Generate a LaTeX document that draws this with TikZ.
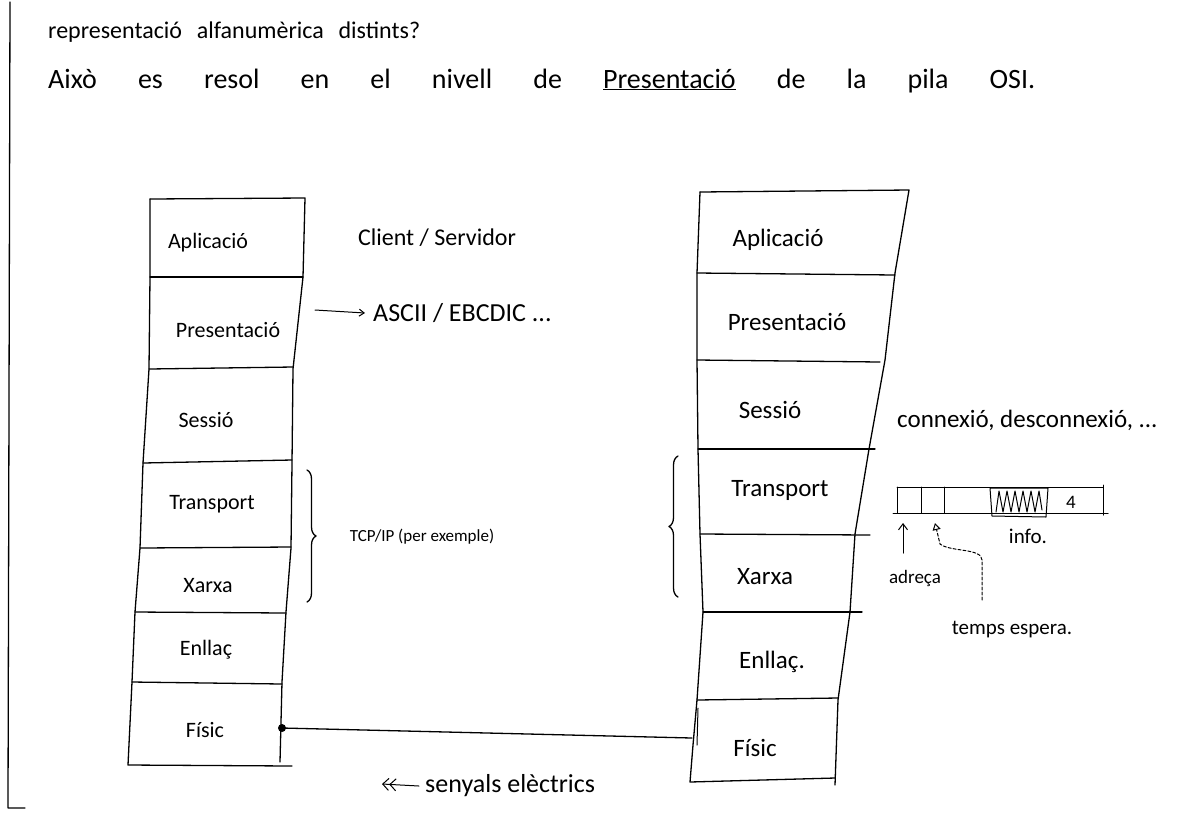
\documentclass[tikz,border=0pt]{standalone}
\usepackage{fontspec}
\setmainfont{Carlito}
\usetikzlibrary{arrows.meta,decorations.pathreplacing}
\begin{document}
\begin{tikzpicture}[x=1pt,y=-1pt,
  ln/.style={line width=1.3pt, line join=round, line cap=round},
  thin/.style={line width=1pt, line join=round, line cap=round},
  lbl/.style={font=\fontsize{22}{26}\selectfont, inner sep=0pt},
  rlbl/.style={font=\fontsize{25}{30}\selectfont, inner sep=0pt},
  note/.style={font=\fontsize{24}{28}\selectfont, inner sep=0pt},
  small/.style={font=\fontsize{19}{22}\selectfont, inner sep=0pt},
  head/.style={font=\fontsize{28}{32}\selectfont, inner sep=0pt, anchor=base west},
  brc/.style={ln, decorate, decoration={brace, amplitude=9pt}}]
\useasboundingbox (0,0) rectangle (1182,812);
% page margin line
\draw[ln] (10,2) -- (8,808) -- (25,808);
% heading
\node[head, font=\fontsize{24}{28}\selectfont] (h1) at (48,38) {\makebox[372pt][s]{representació alfanumèrica distints?}};
\node[head] (h2) at (48,88) {\makebox[987pt][s]{Això es resol en el nivell de \underline{Presentació} de la pila OSI.}};
% left stack
\draw[ln] (150,199) -- (305,198) -- (303,277) -- (293,369) -- (292,463) -- (291,548) -- (286,612) -- (282,682) -- (280,762);
\draw[ln] (150,199) -- (150,277) -- (149,369) -- (143,463) -- (140,548) -- (135,612) -- (132,682) -- (128,765) -- (292,766);
\draw[ln] (150,277) -- (303,277);
\draw[ln] (149,369) -- (293,367);
\draw[ln] (143,463) -- (292,460);
\draw[ln] (140,548) -- (291,547);
\draw[ln] (135,612) -- (286,613);
\draw[ln] (132,682) -- (282,684);
\node[lbl] (la) at (208,243) {Aplicació};
\node[lbl] (lp) at (228,330) {Presentació};
\node[lbl] (ls) at (206,420) {Sessió};
\node[lbl] (lt) at (212,504) {Transport};
\node[lbl] (lx) at (208,586) {Xarxa};
\node[lbl] (le) at (206,650) {Enllaç};
\node[lbl] (lf) at (205,730) {Físic};
% right stack
\draw[ln] (700,192) -- (909,190) -- (895,273) -- (885,360) -- (869,449) -- (855,534) -- (850,612) -- (838,700) -- (835,785);
\draw[ln] (700,192) -- (697,273) -- (697,360) -- (698,449) -- (700,534) -- (703,612) -- (697,700) -- (693,745) -- (690,782) -- (835,778);
\draw[ln] (697,273) -- (895,275);
\draw[ln] (697,360) -- (880,362);
\draw[ln] (698,449) -- (875,449);
\draw[ln] (700,534) -- (870,535);
\draw[ln] (703,612) -- (862,612);
\draw[ln] (697,700) -- (838,698);
\draw[thin] (698,708) -- (697,745);
\node[rlbl] (ra) at (778,240) {Aplicació};
\node[rlbl] (rp) at (787,322) {Presentació};
\node[rlbl] (rs) at (770,410) {Sessió};
\node[rlbl] (rt) at (780,490) {Transport};
\node[rlbl] (rx) at (765,577) {Xarxa};
\node[rlbl] (re) at (772,662) {Enllaç.};
\node[rlbl] (rf) at (755,748) {Físic};
% physical link
\coordinate (pl) at (282,728);
\coordinate (pr) at (692,738);
\fill (pl) circle (4);
\draw[ln] (pl) -- (pr);
% middle notes
\node[note] (cs) at (437,238) {Client / Servidor};
\node[note, anchor=west, font=\fontsize{26}{30}\selectfont] (asc) at (373,313) {ASCII / EBCDIC ...};
\coordinate (ascs) at (315,310);
\draw[thin, -{Straight Barb[length=5pt,width=7pt]}] (ascs) -- ([xshift=-8pt]asc.west);
\draw[brc] (307,470) -- (307,602);
\node[note, font=\fontsize{17}{20}\selectfont] (tcp) at (422,537) {TCP/IP (per exemple)};
\draw[brc] (678,597) -- (678,456);
\node[note, anchor=west, font=\fontsize{25}{30}\selectfont] (con) at (897,420) {connexió, desconnexió, ...};
% packet
\draw[thin] (893,513) -- (1108,513);
\draw[thin] (897,487) -- (1103,487);
\draw[thin] (897,487) -- (897,513);
\draw[thin] (921,487) -- (921,513);
\draw[thin] (944,487) -- (944,513);
\draw[thin] (1103,485) -- (1103,515);
\draw[thin] (990,488) -- (1048,488) -- (1046,517) -- (992,516) -- cycle;
\draw[thin] (996,512) -- (999,491) -- (1003,512) -- (1007,491) -- (1011,512) -- (1015,491) -- (1019,512) -- (1023,491) -- (1027,512) -- (1031,491) -- (1035,512) -- (1039,491) -- (1042,510);
\node[small] (four) at (1071,502) {4};
\node[small, font=\fontsize{21}{24}\selectfont] (info) at (1028,536) {info.};
\node[small] (adr) at (915,578) {adreça};
\coordinate (adrs) at (903,553);
\coordinate (adre) at (903,523);
\draw[thin, -{Straight Barb[length=6pt,width=9pt]}] (adrs) -- (adre);
\node[small, font=\fontsize{21}{24}\selectfont] (temps) at (1012,630) {temps espera.};
\coordinate (ts) at (982,600);
\coordinate (te) at (935,523);
\draw[thin, densely dashed, -{Triangle[open,length=7pt,width=8pt]}] (ts) -- (982,560) .. controls (982,548) and (950,552) .. (940,544) -- (te);
% bottom label
\node[note, anchor=west, font=\fontsize{26}{30}\selectfont] (sen) at (425,786) {senyals elèctrics};
\coordinate (sa) at (382,784);
\draw[thin, {Straight Barb[length=6pt,width=12pt]Straight Barb[length=6pt,width=12pt]}-] (sa) -- ([xshift=-6pt]sen.west);
\end{tikzpicture}
\end{document}
